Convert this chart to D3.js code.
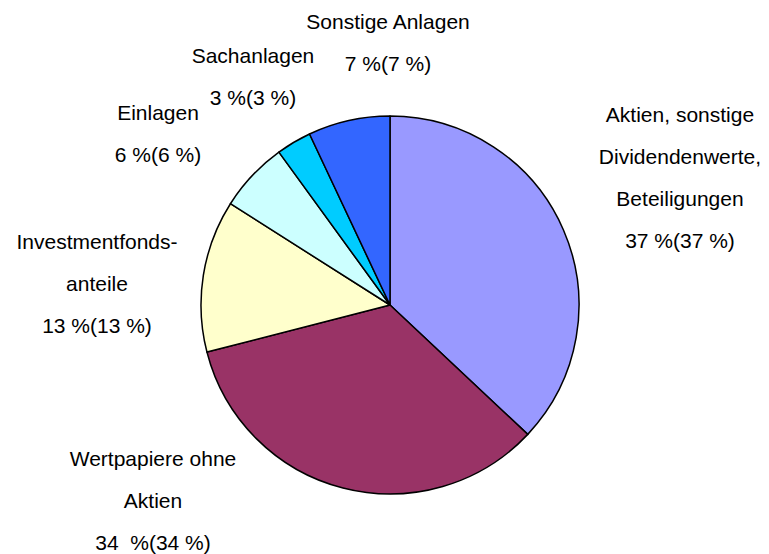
<!DOCTYPE html>
<html>
<head>
<meta charset="utf-8">
<script src="https://cdn.jsdelivr.net/npm/d3@7"></script>
<style>
    body { margin: 0; background: #ffffff; }
    .pie-label { font-family: "Liberation Sans", Arial, sans-serif; font-size: 21px; fill: #000000; white-space: pre; }
</style>
</head>
<body>
<svg id="chart" width="769" height="554"></svg>
<script>
// Anteile in Prozent, im Uhrzeigersinn ab 12 Uhr
const categories = ["Aktien, sonstige Dividendenwerte, Beteiligungen", "Wertpapiere ohne Aktien", "Investmentfondsanteile", "Einlagen", "Sachanlagen", "Sonstige Anlagen"];
const shares = [37, 34, 13, 6, 3, 7];
const previousShares = [37, 34, 13, 6, 3, 7];
const labelLines = [
    ["Aktien, sonstige", "Dividendenwerte,", "Beteiligungen"],
    ["Wertpapiere ohne", "Aktien"],
    ["Investmentfonds-", "anteile"],
    ["Einlagen"],
    ["Sachanlagen"],
    ["Sonstige Anlagen"]
];
const sliceColors = ["#9999FF", "#993366", "#FFFFCC", "#CCFFFF", "#00CCFF", "#3366FF"];

let AssetPie = {
    center: { x: 390, y: 305 },
    radius: 189,
    lineHeight: 42,
    // baseline of first label line, x = text centre
    labelAnchor: [
        { x: 680, y: 122 },
        { x: 153, y: 466 },
        { x: 97, y: 249 },
        { x: 158, y: 120 },
        { x: 253, y: 63 },
        { x: 388, y: 29 }
    ],
    svg: null,
    render: function () {
        AssetPie.svg = d3.select("#chart");

        const rows = categories.map(function (name, i) {
            return { name: name, value: shares[i], prev: previousShares[i], lines: labelLines[i], color: sliceColors[i] };
        });

        const pie = d3.pie()
            .sort(null)
            .value(function (d) { return d.value; });
        const arc = d3.arc()
            .innerRadius(0)
            .outerRadius(AssetPie.radius);

        const g = AssetPie.svg.append("g")
            .attr("transform", "translate(" + AssetPie.center.x + "," + AssetPie.center.y + ")");

        g.selectAll("path")
            .data(pie(rows))
            .enter()
            .append("path")
            .attr("d", arc)
            .attr("fill", function (d) { return d.data.color; })
            .attr("stroke", "#000000")
            .attr("stroke-width", 1.5)
            .attr("stroke-linejoin", "round");

        const labels = AssetPie.svg.selectAll("text.pie-label")
            .data(rows)
            .enter()
            .append("text")
            .attr("class", "pie-label")
            .attr("text-anchor", "middle");

        labels.each(function (d, i) {
            const pos = AssetPie.labelAnchor[i];
            const lines = d.lines.concat([AssetPie.percentText(d)]);
            d3.select(this).selectAll("tspan")
                .data(lines)
                .enter()
                .append("tspan")
                .attr("x", pos.x)
                .attr("y", function (t, j) { return pos.y + j * AssetPie.lineHeight; })
                .text(function (t) { return t; });
        });
    },
    percentText: function (d) {
        const gap = d.value === 34 ? "  " : " ";
        return d.value + gap + "%(" + d.prev + " %)";
    }
};

AssetPie.render();
</script>
</body>
</html>
